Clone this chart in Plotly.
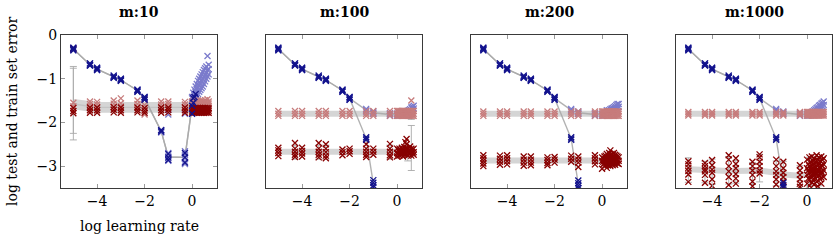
import plotly.graph_objects as go

# ---------------- data (log10 values) ----------------
LR = [-5, -4.3, -4, -3.3, -3, -2.3, -2, -1.3, -1, -0.3,
      0.0, 0.05, 0.1, 0.15, 0.2, 0.25, 0.3, 0.35, 0.4, 0.45, 0.5, 0.55, 0.6, 0.65, 0.7]
PANELS = ["m:10", "m:100", "m:200", "m:1000"]
X_TICKS = [-4, -2, 0]
Y_TICKS = [0, -1, -2, -3]

# blue method, first seven learning rates (identical in all panels)
BLUE_EARLY = [[-0.29, -0.32, -0.35], [-0.65, -0.68, -0.7], [-0.75, -0.78, -0.8],
              [-0.93, -0.96, -0.98], [-1.0, -1.03, -1.05], [-1.25, -1.27, -1.3],
              [-1.42, -1.45, -1.48]]
BLUE_EARLY_MEAN = [-0.32, -0.68, -0.78, -0.96, -1.03, -1.27, -1.45]

# ---- m:10 ----
M10_BLUE_TEST_TAIL = [[-2.17, -2.2, -2.23], [-2.7, -2.76, -2.82, -2.88, -1.82], [-2.66, -2.74, -2.82, -2.9, -2.95, -1.8],
                      [-1.55, -1.45, -1.42], [-1.52, -1.42, -1.32], [-1.48, -1.36, -1.25], [-1.44, -1.3, -1.18],
                      [-1.4, -1.24, -1.12], [-1.35, -1.2, -1.05], [-1.3, -1.15, -1.0], [-1.26, -1.1, -0.95],
                      [-1.22, -1.05, -0.9], [-1.18, -1.0, -0.85], [-1.12, -0.96, -0.8], [-1.06, -0.92, -0.76],
                      [-1.0, -0.86, -0.72], [-0.95, -0.8, -0.48], [-0.9, -0.78, -0.68]]
M10_BLUE_TRAIN_TAIL = [[-2.18, -2.21], [-2.72, -2.8, -2.86], [-2.7, -2.8, -2.92],
                       [-1.8, -1.62], [-1.55, -1.45], [-1.42], [-1.35], [], [], [], [], [], [], [], [], [], [], []]
M10_BLUE_MEAN_TAIL = [-2.2, -2.79, -2.8, -1.5, -1.42, -1.36, -1.3, -1.25, -1.2, -1.15, -1.1,
                      -1.05, -1.0, -0.96, -0.92, -0.86, -0.8, -0.78]
M10_RED_TEST = [[-0.33, -1.55, -1.63], [-1.52, -1.58, -1.64], [-1.53, -1.59, -1.65], [-1.5, -1.57, -1.64],
                [-1.45, -1.56, -1.63], [-1.5, -1.58, -1.65], [-1.47, -1.6, -1.82], [-1.52, -1.59, -1.65],
                [-1.52, -1.58, -1.64], [-1.53, -1.59, -1.65],
                [-1.52, -1.58, -1.63], [-1.55, -1.6, -1.64], [-1.5, -1.56, -1.62], [-1.53, -1.59, -1.64],
                [-1.55, -1.6, -1.63], [-1.5, -1.56, -1.62], [-1.54, -1.59, -1.63], [-1.52, -1.57, -1.62],
                [-1.5, -1.56, -1.62], [-1.55, -1.6, -1.64], [-1.52, -1.57, -1.62], [-1.49, -1.55, -1.61],
                [-1.53, -1.58, -1.63], [-1.47, -1.55, -1.62], [-1.52, -1.57, -1.62]]
M10_RED_TRAIN = [[-0.31, -1.67, -1.74, -1.79], [-1.66, -1.72, -1.78], [-1.66, -1.72, -1.78], [-1.65, -1.71, -1.77],
                 [-1.66, -1.72, -1.78], [-1.66, -1.72, -1.77], [-1.67, -1.73, -1.78], [-1.66, -1.72, -1.78],
                 [-1.66, -1.71, -1.77], [-1.66, -1.72, -1.78],
                 [-1.68, -1.73, -1.77], [-1.67, -1.72, -1.77], [-1.68, -1.73, -1.78], [-1.67, -1.72, -1.77],
                 [-1.68, -1.73, -1.78], [-1.67, -1.72, -1.77], [-1.68, -1.73, -1.78], [-1.67, -1.72, -1.77],
                 [-1.68, -1.73, -1.78], [-1.67, -1.72, -1.77], [-1.68, -1.73, -1.78], [-1.67, -1.72, -1.77],
                 [-1.68, -1.73, -1.78], [-1.67, -1.72, -1.77], [-1.68, -1.73, -1.78]]
M10_RED_TEST_MEAN = [-1.53] + [-1.6] * 24
M10_RED_TRAIN_MEAN = [-1.63] + [-1.71] * 24
M10_ERR_X = [-5, -5]
M10_ERR_Y = [-1.53, -1.63]
M10_ERR_UP = [0.81, 0.87]
M10_ERR_DN = [0.87, 0.62]

# ---- m:100 ----
M100_BLUE_TEST_TAIL = [[-1.69, -1.72, -1.75], [-1.75, -1.78, -1.81], [-1.79, -1.82, -1.85],
                       [-1.8, -1.84], [-1.8, -1.84], [-1.8, -1.84], [-1.8, -1.84], [-1.8, -1.84], [-1.8, -1.84],
                       [-1.8, -1.84], [-1.78, -1.83], [-1.75, -1.8], [-1.74, -1.79], [-1.72, -1.78],
                       [-1.7, -1.76], [-1.66, -1.74], [-1.64, -1.7], [-1.62, -1.68]]
M100_BLUE_TRAIN_TAIL = [[-2.34, -2.37, -2.4], [-3.32, -3.38, -3.44, -3.48]] + [[]] * 16
M100_BLUE_TEST_MEAN_TAIL = [-1.72, -1.78, -1.82, -1.82, -1.82, -1.82, -1.82, -1.82, -1.82, -1.82,
                            -1.8, -1.78, -1.77, -1.75, -1.73, -1.7, -1.67, -1.65]
M100_BLUE_TRAIN_MEAN_TAIL = [-2.37, -3.4] + [None] * 16
M100_RED_TEST = [[-1.74, -1.8, -1.85]] * 22 + [[-1.5, -1.74, -1.8, -1.85], [-1.74, -1.8, -1.85], [-1.74, -1.8, -1.85]]
M100_RED_TRAIN = [[-2.58, -2.64, -2.7, -2.77], [-2.47, -2.6, -2.67, -2.74, -2.79], [-2.58, -2.65, -2.71, -2.78],
                  [-2.47, -2.6, -2.67, -2.74, -2.8], [-2.5, -2.6, -2.68, -2.76, -2.82], [-2.62, -2.68, -2.75],
                  [-2.6, -2.66, -2.72], [-2.5, -2.6, -2.67, -2.74, -2.79], [-2.6, -2.67, -2.74],
                  [-2.49, -2.6, -2.67, -2.75, -2.8],
                  [-2.6, -2.7, -2.78], [-2.63, -2.72], [-2.6, -2.68, -2.76], [-2.64, -2.72], [-2.58, -2.66, -2.74],
                  [-2.62, -2.7, -2.78], [-2.56, -2.66, -2.74], [-2.45, -2.6, -2.7], [-2.38, -2.5, -2.62, -2.72],
                  [-2.6, -2.68, -2.76], [-2.62, -2.7], [-2.55, -2.64, -2.72], [-2.6, -2.68, -2.76],
                  [-2.62, -2.7], [-2.6, -2.68, -2.74]]
M100_RED_TEST_MEAN = [-1.8] * 25
M100_RED_TRAIN_MEAN = [-2.67] * 25
M100_ERR_X = [-4.3, -3.3, -3, -0.3, 0.45, 0.6, 0.6]
M100_ERR_Y = [-2.67, -2.67, -2.67, -2.67, -2.68, -2.68, -1.8]
M100_ERR_UP = [0.15, 0.15, 0.15, 0.15, 0.15, 0.61, 0.1]
M100_ERR_DN = [0.17, 0.17, 0.17, 0.17, 0.2, 0.42, 0.13]

# ---- m:200 ----
M200_BLUE_TEST_TAIL = [[-1.69, -1.72, -1.75], [-1.75, -1.78, -1.81], [-1.79, -1.82, -1.85],
                       [-1.8, -1.84], [-1.8, -1.84], [-1.8, -1.84], [-1.8, -1.84], [-1.72, -1.8], [-1.74, -1.8],
                       [-1.72, -1.78], [-1.7, -1.78], [-1.68, -1.75], [-1.67, -1.74], [-1.65, -1.72],
                       [-1.63, -1.7], [-1.6, -1.68], [-1.58, -1.66], [-1.58, -1.64]]
M200_BLUE_TRAIN_TAIL = [[-2.34, -2.37, -2.4], [-3.33, -3.39, -3.45, -3.5]] + [[]] * 16
M200_BLUE_TEST_MEAN_TAIL = [-1.72, -1.78, -1.82, -1.82, -1.82, -1.82, -1.82, -1.78, -1.77, -1.75,
                            -1.74, -1.72, -1.71, -1.69, -1.67, -1.64, -1.62, -1.61]
M200_BLUE_TRAIN_MEAN_TAIL = [-2.37, -3.42] + [None] * 16
M200_RED_TEST = [[-1.75, -1.8, -1.85]] * 25
M200_RED_TRAIN = [[-2.75, -2.82, -2.88, -2.94, -3.0], [-2.76, -2.83, -2.9, -2.97], [-2.75, -2.82, -2.89, -2.96],
                  [-2.78, -2.85, -2.92, -2.99], [-2.78, -2.85, -2.92, -2.98], [-2.8, -2.86, -2.93, -2.98],
                  [-2.79, -2.85, -2.92], [-2.76, -2.83, -2.9], [-2.78, -2.85, -2.92, -3.02],
                  [-2.75, -2.82, -2.89, -2.96],
                  [-2.8, -2.88, -3.06], [-2.82, -2.9, -2.96], [-2.78, -2.86, -2.94], [-2.76, -2.84, -2.92, -2.98],
                  [-2.72, -2.8, -2.88, -2.96, -3.04], [-2.75, -2.83, -2.91, -2.98], [-2.7, -2.78, -2.86, -2.94],
                  [-2.64, -2.76, -2.84, -2.92, -3.0], [-2.72, -2.8, -2.88, -2.96], [-2.74, -2.82, -2.9, -2.98],
                  [-2.7, -2.78, -2.86, -2.94], [-2.74, -2.82, -2.9, -2.97], [-2.76, -2.84, -2.92],
                  [-2.78, -2.86, -2.94], [-2.8, -2.88, -2.95]]
M200_RED_TEST_MEAN = [-1.8] * 25
M200_RED_TRAIN_MEAN = [-2.87] * 25
M200_ERR_X = []
M200_ERR_Y = []
M200_ERR_UP = []
M200_ERR_DN = []

# ---- m:1000 ----
M1000_BLUE_TEST_TAIL = [[-1.69, -1.72, -1.75], [-1.75, -1.78, -1.81], [-1.79, -1.82, -1.85],
                        [-1.8, -1.84], [-1.8, -1.84], [-1.8, -1.84], [-1.8, -1.84], [-1.76, -1.82], [-1.75, -1.8],
                        [-1.72, -1.79], [-1.7, -1.78], [-1.67, -1.75], [-1.65, -1.72], [-1.62, -1.7],
                        [-1.6, -1.68], [-1.57, -1.65], [-1.55, -1.63], [-1.52, -1.6]]
M1000_BLUE_TRAIN_TAIL = [[-2.34, -2.37, -2.4], [-3.38, -3.43, -3.48]] + [[]] * 16
M1000_BLUE_TEST_MEAN_TAIL = [-1.72, -1.78, -1.82, -1.82, -1.82, -1.82, -1.82, -1.79, -1.78, -1.76,
                             -1.74, -1.71, -1.69, -1.66, -1.64, -1.61, -1.59, -1.56]
M1000_BLUE_TRAIN_MEAN_TAIL = [-2.37, -3.43] + [None] * 16
M1000_RED_TEST = [[-1.76, -1.8, -1.84]] * 25
M1000_RED_TRAIN = [[-2.89, -2.96, -3.04, -3.11, -3.19, -3.36], [-2.93, -3.0, -3.07, -3.12, -3.2, -3.38],
                   [-2.86, -2.98, -3.08, -3.15, -3.3, -3.45], [-2.75, -2.85, -3.0, -3.12, -3.25, -3.43],
                   [-2.82, -2.95, -3.05, -3.18, -3.28, -3.4], [-2.9, -3.0, -3.1, -3.2, -3.35, -3.46],
                   [-2.73, -2.8, -2.9, -3.0, -3.1, -3.17], [-2.85, -3.0, -3.12, -3.2, -3.3, -3.42],
                   [-2.9, -3.05, -3.15, -3.25, -3.35, -3.47], [-2.98, -3.1, -3.2, -3.3, -3.4, -3.47],
                   [-2.85, -3.05, -3.2, -3.4], [-2.95, -3.1, -3.28], [-2.8, -3.0, -3.15, -3.3, -3.45],
                   [-2.9, -3.08, -3.22], [-2.78, -2.98, -3.12, -3.25, -3.38], [-2.88, -3.05, -3.18, -3.32],
                   [-2.82, -2.95, -3.1, -3.2, -3.42], [-2.9, -3.02, -3.15, -3.28], [-2.75, -2.92, -3.08, -3.18, -3.35],
                   [-2.85, -3.0, -3.12, -3.24, -3.46], [-2.8, -2.95, -3.1, -3.22], [-2.88, -3.03, -3.15, -3.3],
                   [-2.78, -2.98, -3.12, -3.26, -3.4], [-2.86, -3.0, -3.16], [-2.82, -2.96, -3.1, -3.25]]
M1000_RED_TEST_MEAN = [-1.8] * 25
M1000_RED_TRAIN_MEAN = [-3.07, -3.1, -3.1, -3.11, -3.11, -3.12, -3.1, -3.15, -3.19, -3.22,
                        -3.18, -3.16, -3.15, -3.15, -3.15, -3.15, -3.15, -3.15, -3.15, -3.15,
                        -3.15, -3.15, -3.15, -3.15, -3.15]
M1000_ERR_X = [-5, -4.3, -4, -3.3, -3, -2.3, -2, -1.3, -1, -0.3, 0.1, 0.3, 0.5]
M1000_ERR_Y = [-3.07, -3.1, -3.1, -3.11, -3.11, -3.12, -3.1, -3.15, -3.19, -3.22, -3.15, -3.15, -3.15]
M1000_ERR_UP = [0.26, 0.21, 0.26, 0.33, 0.24, 0.2, 0.37, 0.27, 0.3, 0.23, 0.35, 0.33, 0.37]
M1000_ERR_DN = [0.3, 0.28, 0.32, 0.3, 0.28, 0.3, 0.26, 0.3, 0.28, 0.25, 0.3, 0.3, 0.3]

PANEL_DATA = [
    (M10_BLUE_TEST_TAIL, M10_BLUE_TRAIN_TAIL, M10_BLUE_MEAN_TAIL, M10_BLUE_MEAN_TAIL,
     M10_RED_TEST, M10_RED_TRAIN, M10_RED_TEST_MEAN, M10_RED_TRAIN_MEAN,
     M10_ERR_X, M10_ERR_Y, M10_ERR_UP, M10_ERR_DN),
    (M100_BLUE_TEST_TAIL, M100_BLUE_TRAIN_TAIL, M100_BLUE_TEST_MEAN_TAIL, M100_BLUE_TRAIN_MEAN_TAIL,
     M100_RED_TEST, M100_RED_TRAIN, M100_RED_TEST_MEAN, M100_RED_TRAIN_MEAN,
     M100_ERR_X, M100_ERR_Y, M100_ERR_UP, M100_ERR_DN),
    (M200_BLUE_TEST_TAIL, M200_BLUE_TRAIN_TAIL, M200_BLUE_TEST_MEAN_TAIL, M200_BLUE_TRAIN_MEAN_TAIL,
     M200_RED_TEST, M200_RED_TRAIN, M200_RED_TEST_MEAN, M200_RED_TRAIN_MEAN,
     M200_ERR_X, M200_ERR_Y, M200_ERR_UP, M200_ERR_DN),
    (M1000_BLUE_TEST_TAIL, M1000_BLUE_TRAIN_TAIL, M1000_BLUE_TEST_MEAN_TAIL, M1000_BLUE_TRAIN_MEAN_TAIL,
     M1000_RED_TEST, M1000_RED_TRAIN, M1000_RED_TEST_MEAN, M1000_RED_TRAIN_MEAN,
     M1000_ERR_X, M1000_ERR_Y, M1000_ERR_UP, M1000_ERR_DN),
]

# ---------------- styling ----------------
W, H = 833, 240
PLOT_LEFT = [61, 266, 471, 676]
PLOT_W = 156
PLOT_TOP, PLOT_BOTTOM = 35, 188
FONT = "DejaVu Serif"
LIGHT_BLUE = "#7b7bcc"
DARK_BLUE = "#12128c"
LIGHT_RED = "#c77c7c"
DARK_RED = "#880000"
BAND = "rgba(185,185,185,0.6)"
THIN = "rgba(170,170,170,0.9)"


def flat(xs, seeds):
    X, Y = [], []
    for x, vals in zip(xs, seeds):
        for v in vals:
            X.append(x)
            Y.append(v)
    return X, Y


def mk(xs, ys, color, xa, ya):
    return go.Scatter(x=xs, y=ys, mode="markers", xaxis=xa, yaxis=ya, hoverinfo="skip",
                      marker=dict(symbol="x-thin", size=6, color=color,
                                  line=dict(width=1.3, color=color)))


fig = go.Figure()
layout = {}
for i, (name, data) in enumerate(zip(PANELS, PANEL_DATA)):
    (bt_tail, br_tail, btm_tail, brm_tail, rt, rr, rtm, rrm, ex, ey, eu, ed) = data
    sfx = "" if i == 0 else str(i + 1)
    xa, ya = "x" + sfx, "y" + sfx
    blue_test = BLUE_EARLY + bt_tail
    blue_train = BLUE_EARLY + br_tail
    blue_test_mean = BLUE_EARLY_MEAN + btm_tail
    blue_train_mean = BLUE_EARLY_MEAN + brm_tail

    # mean bands (red method)
    for m in (rtm, rrm):
        fig.add_trace(go.Scatter(x=LR, y=m, mode="lines", xaxis=xa, yaxis=ya, hoverinfo="skip",
                                 line=dict(color=BAND, width=6)))
    # mean lines (blue method)
    for m in (blue_test_mean, blue_train_mean):
        fig.add_trace(go.Scatter(x=LR, y=m, mode="lines", xaxis=xa, yaxis=ya, hoverinfo="skip",
                                 connectgaps=False, line=dict(color=THIN, width=1.4)))
    # error bars
    if ex:
        fig.add_trace(go.Scatter(x=ex, y=ey, mode="markers", xaxis=xa, yaxis=ya, hoverinfo="skip",
                                 marker=dict(size=1, opacity=0),
                                 error_y=dict(type="data", symmetric=False, array=eu, arrayminus=ed,
                                              color="rgba(170,170,170,0.9)", thickness=1, width=3.5)))
    for seeds, col in ((blue_test, LIGHT_BLUE), (rt, LIGHT_RED), (rr, DARK_RED), (blue_train, DARK_BLUE)):
        X, Y = flat(LR, seeds)
        fig.add_trace(mk(X, Y, col, xa, ya))

    x0 = PLOT_LEFT[i] / W
    x1 = (PLOT_LEFT[i] + PLOT_W) / W
    common = dict(showline=True, linecolor="#3a3a3a", linewidth=1, mirror="ticks",
                  showgrid=False, zeroline=False, ticks="inside", ticklen=4,
                  tickcolor="#9a9a9a", tickwidth=1, automargin=False,
                  tickfont=dict(family=FONT, size=14, color="black"))
    layout["xaxis" + sfx] = dict(domain=[x0, x1], anchor=ya, range=[-5.52, 1.05],
                                 tickvals=X_TICKS, **common)
    ycommon = dict(common)
    if i > 0:
        ycommon.update(ticks="", showticklabels=False)
    layout["yaxis" + sfx] = dict(domain=[1 - PLOT_BOTTOM / H, 1 - PLOT_TOP / H], anchor=xa,
                                 range=[-3.5, 0], tickvals=Y_TICKS, **ycommon)

annotations = []
for i, name in enumerate(PANELS):
    cx = (PLOT_LEFT[i] + PLOT_W / 2) / W
    annotations.append(dict(x=cx, y=1 - 12 / H, xref="paper", yref="paper", showarrow=False,
                            text="<b>" + name + "</b>", xanchor="center", yanchor="middle",
                            font=dict(family=FONT, size=14, color="black")))
annotations.append(dict(x=(PLOT_LEFT[0] + PLOT_W / 2) / W, y=1 - 226 / H, xref="paper", yref="paper",
                        showarrow=False, text="log learning rate", xanchor="center", yanchor="middle",
                        font=dict(family=FONT, size=14, color="black")))
annotations.append(dict(x=12 / W, y=1 - 111 / H, xref="paper", yref="paper", showarrow=False,
                        text="log test and train set error", textangle=-90,
                        xanchor="center", yanchor="middle",
                        font=dict(family=FONT, size=14, color="black")))

fig.update_layout(template="none", width=W, height=H, margin=dict(l=0, r=0, t=0, b=0, pad=0),
                  autosize=False,
                  paper_bgcolor="white", plot_bgcolor="white", showlegend=False,
                  annotations=annotations, **layout)
fig.write_html("out.html")
